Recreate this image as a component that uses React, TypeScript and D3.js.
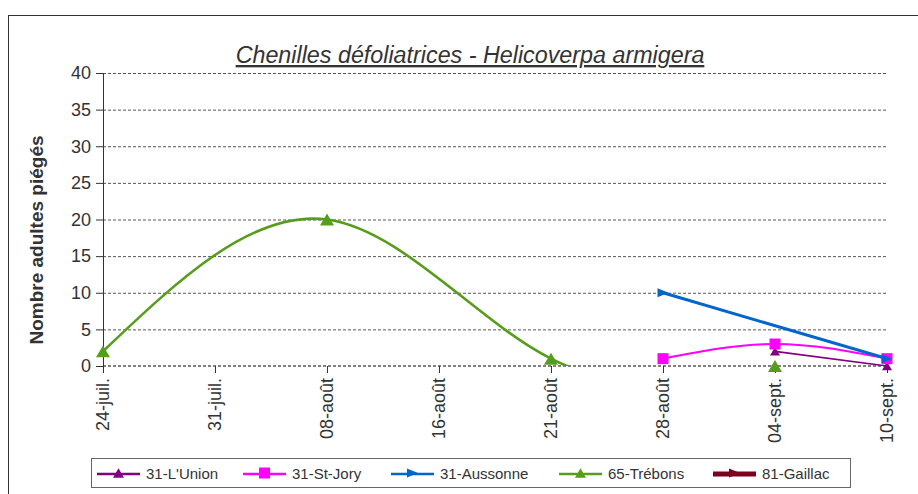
import React from "react";
import * as d3 from "d3";

// Chenilles défoliatrices - Helicoverpa armigera : piégeages par site
const categories = ["24-juil.", "31-juil.", "08-août", "16-août", "21-août", "28-août", "04-sept.", "10-sept."];
const yTicks = [0, 5, 10, 15, 20, 25, 30, 35, 40];

const lUnion: (number | null)[] = [null, null, null, null, null, null, 2, 0];
const stJory: (number | null)[] = [null, null, null, null, null, 1, 3, 1];
const aussonne: (number | null)[] = [null, null, null, null, null, 10, null, 1];
const trebons: (number | null)[] = [2, null, 20, null, 1, null, 0, null];
const gaillac: (number | null)[] = [null, null, null, null, null, null, null, null];

const seriesNames = ["31-L'Union", "31-St-Jory", "31-Aussonne", "65-Trébons", "81-Gaillac"];

const FONT = "'Liberation Sans', Arial, sans-serif";
const TXT = "#333333";

type Serie = {
  name: string;
  values: (number | null)[];
  color: string;
  width: number;
  symbol: "tri" | "square" | "right";
  size: number;
  smooth: boolean;
};

const series: Serie[] = [
  { name: seriesNames[0], values: lUnion, color: "#800080", width: 1.6, symbol: "tri", size: 10, smooth: false },
  { name: seriesNames[1], values: stJory, color: "#ff00ff", width: 2, symbol: "square", size: 11, smooth: true },
  { name: seriesNames[2], values: aussonne, color: "#0066cc", width: 3, symbol: "right", size: 11, smooth: false },
  { name: seriesNames[3], values: trebons, color: "#579d1c", width: 2.6, symbol: "tri", size: 14, smooth: true },
  { name: seriesNames[4], values: gaillac, color: "#7e0021", width: 5, symbol: "right", size: 11, smooth: false },
];

function symbolPath(kind: string, cx: number, cy: number, s: number) {
  const h = s / 2;
  if (kind === "square") return `M${cx - h},${cy - h}h${s}v${s}h${-s}Z`;
  if (kind === "right") return `M${cx - h},${cy - h * 0.8}L${cx + h},${cy}L${cx - h},${cy + h * 0.8}Z`;
  const th = s * 0.85;
  return `M${cx},${cy - th / 2}L${cx + h},${cy + th / 2}L${cx - h},${cy + th / 2}Z`;
}

const plot = { left: 103, right: 887, top: 73, bottom: 366 };
const legendX = [97, 243, 391, 559, 713];

export default function App() {
  const x = d3.scalePoint<string>().domain(categories).range([plot.left, plot.right]).padding(0);
  const y = d3.scaleLinear().domain([0, 40]).range([plot.bottom, plot.top]);

  const lineFor = (s: Serie) => {
    const pts = s.values
      .map((v, i) => ({ v, c: categories[i] }))
      .filter((p) => p.v !== null) as { v: number; c: string }[];
    if (pts.length < 2) return null;
    const gen = d3
      .line<{ v: number; c: string }>()
      .x((p) => x(p.c) as number)
      .y((p) => y(p.v))
      .curve(s.smooth ? d3.curveNatural : d3.curveLinear);
    return gen(pts);
  };

  return (
    <svg
      width={918}
      height={494}
      style={{ position: "absolute", left: 0, top: 0, background: "#fff" }}
      fontFamily={FONT}
    >
      <defs>
        <clipPath id="plotClip">
          <rect x={plot.left} y={plot.top} width={plot.right - plot.left} height={plot.bottom - plot.top} />
        </clipPath>
      </defs>
      <rect x={8.5} y={15.5} width={930} height={500} fill="#fff" stroke="#333" strokeWidth={1} />

      <text x={470} y={63} textAnchor="middle" fontSize={23.3} fontStyle="italic" fill={TXT} textDecoration="underline">
        Chenilles défoliatrices - Helicoverpa armigera
      </text>

      {/* grid */}
      {yTicks.map((t) => (
        <line
          key={"g" + t}
          x1={plot.left}
          x2={plot.right}
          y1={t === 0 ? y(t) : y(t) + 0.5}
          y2={t === 0 ? y(t) : y(t) + 0.5}
          stroke={t === 0 ? "#808080" : "#555"}
          strokeWidth={t === 0 ? 2 : 1}
          strokeDasharray="3,2"
        />
      ))}

      {/* y axis */}
      <line x1={plot.left + 0.5} x2={plot.left + 0.5} y1={plot.top} y2={plot.bottom + 7} stroke="#333" />
      {yTicks.map((t) => (
        <g key={"y" + t}>
          <line x1={96} x2={plot.left} y1={y(t) + 0.5} y2={y(t) + 0.5} stroke="#333" />
          <text x={91} y={y(t)} dy="0.35em" textAnchor="end" fontSize={18} fill={TXT}>
            {t}
          </text>
        </g>
      ))}

      {/* x axis */}
      {categories.map((c) => (
        <g key={c}>
          <line x1={Math.round(x(c) as number) + 0.5} x2={Math.round(x(c) as number) + 0.5} y1={plot.bottom} y2={plot.bottom + 7} stroke="#333" />
          <text
            transform={`translate(${(x(c) as number) + 6},${378}) rotate(-90)`}
            textAnchor="end"
            fontSize={18}
            fill={TXT}
          >
            {c}
          </text>
        </g>
      ))}

      <text transform="translate(43,240) rotate(-90)" textAnchor="middle" fontSize={19} fontWeight="bold" fill={TXT}>
        Nombre adultes piégés
      </text>

      {/* series lines */}
      <g clipPath="url(#plotClip)">
        {series.map((s) => {
          const d = lineFor(s);
          return d ? <path key={s.name} d={d} fill="none" stroke={s.color} strokeWidth={s.width} strokeLinejoin="round" /> : null;
        })}
      </g>

      {/* markers */}
      {series.map((s) =>
        s.values.map((v, i) =>
          v === null ? null : (
            <path key={s.name + i} d={symbolPath(s.symbol, x(categories[i]) as number, y(v), s.size)} fill={s.color} />
          )
        )
      )}

      {/* legend */}
      <rect x={91.5} y={458.5} width={759} height={29} fill="#fff" stroke="#666" />
      {series.map((s, i) => (
        <g key={"l" + s.name}>
          <line x1={legendX[i]} x2={legendX[i] + 43} y1={474} y2={474} stroke={s.color} strokeWidth={s.width > 3 ? 5 : 2.5} />
          <path d={symbolPath(s.symbol, legendX[i] + 21.5, 473, 11)} fill={s.color} />
          <text x={legendX[i] + 49} y={474} dy="0.35em" fontSize={15} fill={TXT}>
            {s.name}
          </text>
        </g>
      ))}
    </svg>
  );
}
